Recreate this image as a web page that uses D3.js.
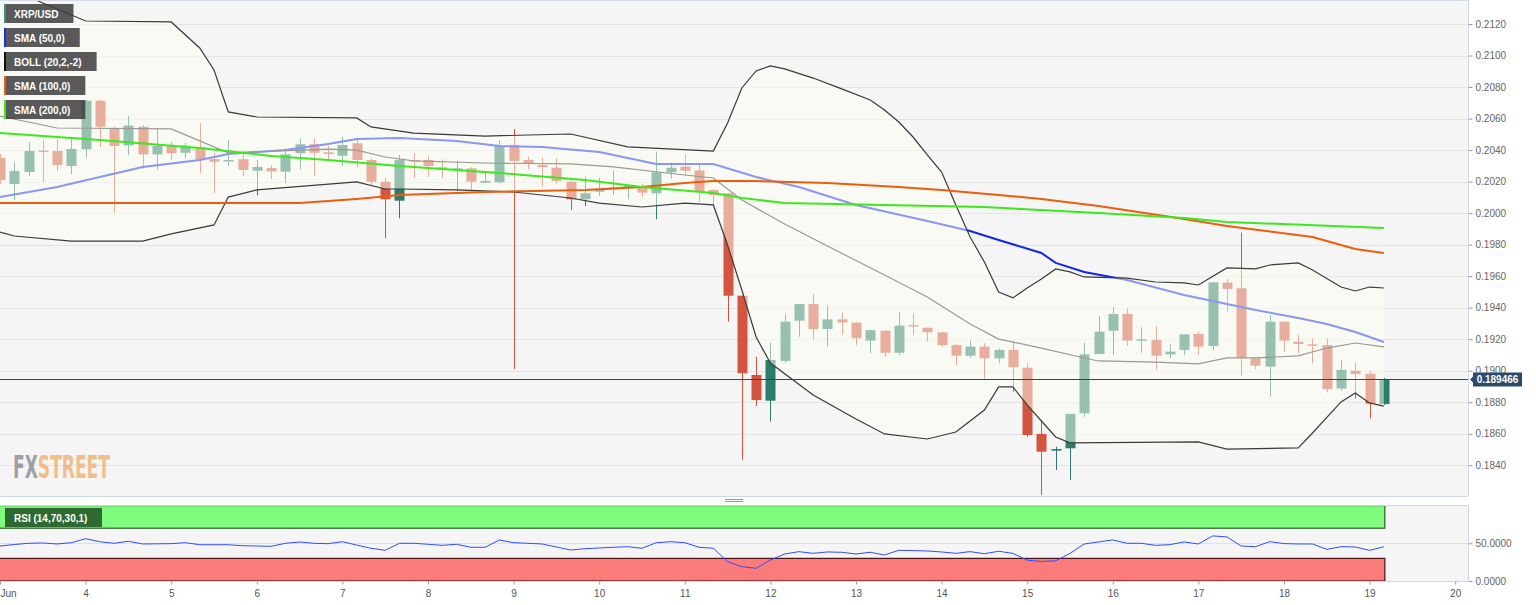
<!DOCTYPE html>
<html>
<head>
<meta charset="utf-8">
<script src="https://cdn.jsdelivr.net/npm/d3@7"></script>
<style>
  body { margin: 0; background: #fff; }
  svg text { font-family: "Liberation Sans", Arial, sans-serif; }
</style>
</head>
<body>
<div id="chart"></div>
<script>
// XRP/USD 4h candles, index 0 = Jun 3 00:00
const opens = [
  0.20350,0.20185,0.20261,0.20397,0.20394,0.20299,0.20405,0.20713,0.20534,0.20430,
  0.20548,0.20373,0.20432,0.20383,0.20418,0.20343,0.20331,0.20342,0.20269,0.20286,
  0.20263,0.20380,0.20437,0.20386,0.20364,0.20443,0.20337,0.20199,0.20079,0.20337,
  0.20337,0.20291,0.20274,0.20284,0.20193,0.20196,0.20432,0.20337,0.20305,0.20288,
  0.20199,0.20088,0.20136,0.20151,0.20168,0.20168,0.20126,0.20259,0.20295,0.20271,
  0.20147,0.20126,0.19476,0.18973,0.18810,0.19062,0.19318,0.19423,0.19265,0.19326,
  0.19305,0.19191,0.19254,0.19114,0.19290,0.19273,0.19244,0.19163,0.19095,0.19153,
  0.19079,0.19132,0.19019,0.18599,0.18493,0.18508,0.18730,0.19106,0.19254,0.19360,
  0.19191,0.19195,0.19104,0.19132,0.19233,0.19157,0.19559,0.19523,0.19079,0.19026,
  0.19311,0.19184,0.19168,0.19163,0.18887,0.19000,0.18981,0.18789
];
const highs = [
  0.20375,0.20324,0.20451,0.20464,0.20470,0.20470,0.20718,0.20718,0.20547,0.20618,
  0.20559,0.20540,0.20453,0.20447,0.20572,0.20382,0.20464,0.20382,0.20337,0.20305,
  0.20411,0.20475,0.20475,0.20426,0.20485,0.20468,0.20348,0.20227,0.20369,0.20380,
  0.20363,0.20342,0.20333,0.20291,0.20267,0.20464,0.20534,0.20358,0.20352,0.20348,
  0.20210,0.20231,0.20225,0.20269,0.20179,0.20185,0.20390,0.20320,0.20375,0.20305,
  0.20153,0.20126,0.19476,0.19089,0.19180,0.19360,0.19423,0.19487,0.19413,0.19371,
  0.19311,0.19258,0.19258,0.19371,0.19364,0.19273,0.19244,0.19168,0.19191,0.19174,
  0.19142,0.19191,0.19047,0.18687,0.18518,0.18726,0.19178,0.19347,0.19406,0.19396,
  0.19276,0.19284,0.19168,0.19231,0.19248,0.19561,0.19580,0.19876,0.19079,0.19354,
  0.19311,0.19227,0.19206,0.19206,0.19068,0.19051,0.19000,0.18954
];
const lows = [
  0.20185,0.20083,0.20236,0.20198,0.20267,0.20248,0.20350,0.20420,0.20001,0.20369,
  0.20280,0.20274,0.20337,0.20350,0.20255,0.20128,0.20299,0.20236,0.20113,0.20215,
  0.20189,0.20278,0.20236,0.20342,0.20299,0.20288,0.20172,0.19840,0.19967,0.20221,
  0.20231,0.20221,0.20140,0.20147,0.20193,0.20189,0.19011,0.20278,0.20168,0.20189,
  0.20020,0.20045,0.20109,0.20115,0.20088,0.20104,0.19961,0.20217,0.20242,0.20071,
  0.20052,0.19311,0.18434,0.18776,0.18677,0.19051,0.19216,0.19199,0.19153,0.19227,
  0.19163,0.19111,0.19089,0.19100,0.19227,0.19184,0.19153,0.19036,0.19079,0.18952,
  0.19047,0.18867,0.18581,0.18212,0.18370,0.18307,0.18708,0.19106,0.19100,0.19157,
  0.19114,0.19005,0.19079,0.19100,0.19100,0.19132,0.19375,0.18967,0.19009,0.18835,
  0.19121,0.19111,0.19047,0.18863,0.18873,0.18824,0.18698,0.18783
];
const closes = [
  0.20210,0.20267,0.20394,0.20391,0.20305,0.20407,0.20713,0.20548,0.20426,0.20555,
  0.20373,0.20426,0.20380,0.20428,0.20343,0.20326,0.20337,0.20274,0.20293,0.20265,
  0.20373,0.20437,0.20383,0.20375,0.20432,0.20337,0.20199,0.20088,0.20337,0.20331,
  0.20299,0.20274,0.20284,0.20199,0.20204,0.20426,0.20331,0.20312,0.20291,0.20204,
  0.20088,0.20126,0.20147,0.20164,0.20172,0.20130,0.20259,0.20288,0.20269,0.20140,
  0.20115,0.19476,0.18984,0.18814,0.19068,0.19311,0.19423,0.19263,0.19326,0.19307,
  0.19206,0.19258,0.19114,0.19286,0.19282,0.19244,0.19163,0.19095,0.19153,0.19079,
  0.19132,0.19022,0.18592,0.18486,0.18503,0.18726,0.19104,0.19248,0.19360,0.19191,
  0.19199,0.19095,0.19121,0.19231,0.19153,0.19561,0.19519,0.19083,0.19032,0.19311,
  0.19191,0.19170,0.19161,0.18884,0.19005,0.18979,0.18792,0.189466
];

// indicator lines as [candle index, price]
const upperBand = [[0,0.21454],[3,0.21333],[6,0.21219],[12,0.21213],[14,0.21048],[15,0.20908],[16,0.20642],[18,0.20610],[25,0.20604],[26,0.20547],[29,0.20508],[34,0.20489],[40,0.20502],[44,0.20420],[50,0.20394],[51,0.20572],[52,0.20794],[53,0.20902],[54,0.20934],[55,0.20915],[57,0.20857],[59,0.20788],[61,0.20718],[62,0.20654],[63,0.20578],[64,0.20483],[65,0.20369],[66,0.20261],[67,0.20052],[68,0.19849],[69,0.19690],[70,0.19500],[71,0.19462],[72,0.19525],[73,0.19582],[74,0.19646],[75,0.19627],[76,0.19595],[79,0.19588],[81,0.19563],[83,0.19557],[84,0.19544],[86,0.19652],[88,0.19646],[89,0.19671],[91,0.19684],[92,0.19639],[94,0.19531],[95,0.19506],[96,0.19531],[97,0.19525]];
const middleBand = [[0,0.20616],[4,0.20540],[12,0.20534],[16,0.20382],[23,0.20406],[25,0.20400],[27,0.20356],[29,0.20331],[34,0.20318],[40,0.20312],[43,0.20293],[48,0.20242],[50,0.20223],[52,0.20083],[55,0.19931],[58,0.19791],[62,0.19607],[65,0.19468],[68,0.19297],[70,0.19201],[73,0.19144],[76,0.19081],[77,0.19062],[81,0.19055],[84,0.19043],[86,0.19081],[88,0.19081],[91,0.19094],[93,0.19144],[95,0.19176],[97,0.19151]];
const lowerBand = [[0,0.19880],[1,0.19855],[5,0.19823],[10,0.19823],[12,0.19868],[15,0.19925],[16,0.20102],[18,0.20147],[25,0.20198],[27,0.20153],[28,0.20153],[32,0.20147],[36,0.20134],[40,0.20096],[42,0.20064],[45,0.20039],[48,0.20064],[50,0.20052],[51,0.19798],[52,0.19512],[53,0.19214],[54,0.19049],[57,0.18846],[60,0.18694],[62,0.18599],[65,0.18567],[67,0.18611],[69,0.18751],[70,0.18897],[71,0.18897],[72,0.18783],[73,0.18681],[74,0.18580],[75,0.18542],[84,0.18548],[86,0.18503],[91,0.18510],[92,0.18605],[94,0.18802],[95,0.18859],[96,0.18796],[97,0.18776]];
const sma50 = [[0,0.20102],[4,0.20166],[7,0.20229],[10,0.20293],[14,0.20337],[16,0.20375],[20,0.20400],[23,0.20439],[25,0.20470],[28,0.20477],[32,0.20458],[35,0.20426],[38,0.20420],[42,0.20388],[46,0.20312],[50,0.20312],[53,0.20229],[56,0.20166],[60,0.20052],[65,0.19950],[68,0.19887],[70,0.19830],[73,0.19747],[74,0.19684],[76,0.19627],[79,0.19576],[83,0.19481],[88,0.19385],[91,0.19335],[93,0.19297],[95,0.19246],[97,0.19182]];
const sma100 = [[0,0.20064],[21,0.20064],[25,0.20090],[28,0.20115],[34,0.20134],[41,0.20147],[45,0.20166],[48,0.20191],[50,0.20204],[53,0.20204],[58,0.20191],[63,0.20166],[66,0.20147],[70,0.20115],[73,0.20090],[77,0.20045],[83,0.19963],[86,0.19918],[92,0.19849],[93,0.19823],[95,0.19772],[97,0.19747]];
const sma200 = [[0,0.20508],[7,0.20464],[14,0.20413],[19,0.20363],[23,0.20337],[28,0.20299],[35,0.20255],[41,0.20210],[45,0.20166],[50,0.20128],[52,0.20096],[55,0.20064],[62,0.20052],[69,0.20039],[77,0.20001],[83,0.19969],[86,0.19944],[97,0.19906]];

const rsi = [
  46.4,48.4,50.0,50.4,49.1,50.8,56.1,52.1,50.0,52.7,
  49.1,49.3,49.5,50.8,48.1,48.1,48.1,46.8,46.4,46.0,
  50.0,51.7,50.0,49.5,52.1,47.7,43.4,40.7,50.0,50.0,
  48.7,47.3,48.7,44.7,44.7,54.4,50.8,50.0,49.1,45.1,
  41.1,42.8,43.8,44.7,45.5,43.4,50.8,52.1,50.8,44.7,
  43.4,25.6,19.0,16.8,27.9,35.8,38.9,36.7,38.5,38.1,
  35.8,38.1,34.5,40.7,40.3,39.8,38.5,36.7,38.9,36.2,
  39.4,36.6,27.7,25.9,26.8,36.6,49.1,51.8,54.5,50.0,
  50.0,47.3,48.2,51.8,49.1,59.8,58.5,46.4,45.5,52.2,
  49.6,49.1,49.1,42.0,45.5,45.1,40.6,45.5
];

const priceTicks = [0.184,0.186,0.188,0.190,0.192,0.194,0.196,0.198,0.200,0.202,0.204,0.206,0.208,0.210,0.212];
const rsiTicks = [0, 50];
const dayLabels = ["Jun","4","5","6","7","8","9","10","11","12","13","14","15","16","17","18","19","20"];
const legendNames = ["XRP/USD","SMA (50,0)","BOLL (20,2,-2)","SMA (100,0)","SMA (200,0)"];
const legendColors = ["#3a9580","#1530f0","#111111","#e8600f","#3de81c"];
const lastPrice = 0.189466;

const W = 1536, H = 605, plotW = 1468;
const mainH = 496, rsiTop = 505, rsiBottom = 581;
const bull = "#2c7c69", bear = "#d35540";

const x = d3.scaleLinear().domain([0, 102.9]).range([0, plotW]);
const y = d3.scaleLinear().domain([0.184, 0.212]).range([465.3, 24]);
const yR = d3.scaleLinear().domain([0, 100]).range([rsiBottom, 505.6]);

const svg = d3.select("#chart").append("svg")
  .attr("width", W).attr("height", H);

svg.append("rect").attr("width", W).attr("height", H).attr("fill", "#fff");

const defs = svg.append("defs");
defs.append("clipPath").attr("id", "clipMain")
  .append("rect").attr("x", 0).attr("y", 0).attr("width", plotW).attr("height", mainH);
defs.append("clipPath").attr("id", "clipRsi")
  .append("rect").attr("x", 0).attr("y", rsiTop).attr("width", plotW).attr("height", rsiBottom - rsiTop);

// ---- main panel ----
svg.append("rect").attr("x", 0).attr("y", 0).attr("width", plotW).attr("height", mainH)
  .attr("fill", "#f5f5f5");

const plot = svg.append("g").attr("clip-path", "url(#clipMain)");

plot.selectAll(".grid").data(priceTicks).enter().append("line")
  .attr("x1", 0).attr("x2", plotW)
  .attr("y1", d => Math.round(y(d)) + 0.5).attr("y2", d => Math.round(y(d)) + 0.5)
  .attr("stroke", "#e4e4e4");

// watermark: "FX" grey + "STREET" orange as one text, squeezed to width
const wmG = plot.append("g").attr("opacity", 0.85);
const wm = wmG.append("text").attr("x", 0).attr("y", 0)
  .style("font-family", "'Liberation Sans Narrow', 'DejaVu Sans Condensed', sans-serif")
  .style("font-weight", "bold").style("font-size", "32px");
wm.append("tspan").attr("fill", "#8d929a").text("FX");
wm.append("tspan").attr("fill", "#f1b578").text("STREET");
const wmW = wm.node().getComputedTextLength();
wmG.attr("transform", `translate(13,478) scale(${97 / wmW},1)`);

// candles
const candles = opens.map((o, i) => ({i, o, h: highs[i], l: lows[i], c: closes[i]}));
const bodyW = 10;
const cg = plot.append("g");
cg.selectAll(".wick").data(candles).enter().append("line")
  .attr("x1", d => Math.round(x(d.i)) + 0.5).attr("x2", d => Math.round(x(d.i)) + 0.5)
  .attr("y1", d => y(d.h)).attr("y2", d => y(d.l))
  .attr("stroke", d => d.c >= d.o ? bull : bear).attr("stroke-width", 1);
cg.selectAll(".body").data(candles).enter().append("rect")
  .attr("x", d => Math.round(x(d.i)) - bodyW / 2 + 0.5)
  .attr("width", bodyW)
  .attr("y", d => y(Math.max(d.o, d.c)))
  .attr("height", d => Math.max(1.5, Math.abs(y(d.o) - y(d.c))))
  .attr("fill", d => d.c >= d.o ? bull : bear);

const line = d3.line().x(d => x(d[0])).y(d => y(d[1]));

plot.append("path").datum(sma50).attr("d", line)
  .attr("fill", "none").attr("stroke", "#0e26ee").attr("stroke-width", 2);
plot.append("path").datum(middleBand).attr("d", line)
  .attr("fill", "none").attr("stroke", "#2e2e2e").attr("stroke-width", 1.2);

// bollinger fill lightens everything beneath it
const bandPts = upperBand.map(d => [x(d[0]), y(d[1])])
  .concat(lowerBand.slice().reverse().map(d => [x(d[0]), y(d[1])]));
plot.append("path").attr("d", d3.line()(bandPts) + "Z")
  .attr("fill", "#fbfff2").attr("opacity", 0.52);

plot.append("path").datum(upperBand).attr("d", line)
  .attr("fill", "none").attr("stroke", "#3a3a3a").attr("stroke-width", 1.2);
plot.append("path").datum(lowerBand).attr("d", line)
  .attr("fill", "none").attr("stroke", "#3a3a3a").attr("stroke-width", 1.2);
plot.append("path").datum(sma100).attr("d", line)
  .attr("fill", "none").attr("stroke", "#ec5d0c").attr("stroke-width", 2);
plot.append("path").datum(sma200).attr("d", line)
  .attr("fill", "none").attr("stroke", "#3ee81e").attr("stroke-width", 2);

// current price line
const yLast = Math.round(y(lastPrice)) + 0.5;
plot.append("line").attr("x1", 0).attr("x2", plotW).attr("y1", yLast).attr("y2", yLast)
  .attr("stroke", "#2d4566").attr("stroke-width", 1);

// legend boxes
const lg = svg.append("g");
legendNames.forEach((name, k) => {
  const g = lg.append("g").attr("transform", `translate(4,${4 + k * 24})`);
  const rect = g.append("rect").attr("height", 19).attr("fill", "#3c3c3c").attr("opacity", 0.85);
  const t = g.append("text").attr("x", 10).attr("y", 13.5).attr("fill", "#fff")
    .style("font-size", "10px").style("font-weight", "bold").text(name);
  const tw = t.node().getComputedTextLength();
  rect.attr("width", tw + 25);
  g.append("rect").attr("width", 2).attr("height", 19).attr("fill", legendColors[k]);
});

// borders of main panel
svg.append("line").attr("x1", 0).attr("x2", plotW).attr("y1", 0.5).attr("y2", 0.5).attr("stroke", "#d3dbea");
svg.append("line").attr("x1", 0).attr("x2", plotW).attr("y1", mainH + 0.5).attr("y2", mainH + 0.5).attr("stroke", "#cfd8e8");
svg.append("line").attr("x1", plotW + 0.5).attr("x2", plotW + 0.5).attr("y1", 0).attr("y2", mainH).attr("stroke", "#cfd8e8");

// right price axis
const yAxis = d3.axisRight(y).tickValues(priceTicks).tickFormat(d3.format(".4f")).tickSize(4).tickPadding(3);
const ya = svg.append("g").attr("transform", `translate(${plotW + 0.5},0)`).call(yAxis);
ya.select(".domain").remove();
ya.selectAll("line").attr("stroke", "#999");
ya.selectAll("text").attr("fill", "#666").style("font-size", "10px");

// last price label
const lp = svg.append("g").attr("transform", `translate(${plotW + 2},${yLast})`);
lp.append("path").attr("d", "M0,0 L3,-3 L3,3 Z").attr("fill", "#2c4a6e");
lp.append("rect").attr("x", 3).attr("y", -7).attr("width", 49).attr("height", 14).attr("fill", "#2c4a6e");
lp.append("text").attr("x", 27.5).attr("y", 3.5).attr("text-anchor", "middle")
  .attr("fill", "#fff").style("font-size", "10px").style("font-weight", "bold")
  .text(lastPrice.toFixed(6));

// splitter handle
svg.append("line").attr("x1", 725).attr("x2", 743).attr("y1", 499.5).attr("y2", 499.5).attr("stroke", "#999");
svg.append("line").attr("x1", 725).attr("x2", 743).attr("y1", 501.5).attr("y2", 501.5).attr("stroke", "#999");

// ---- RSI panel ----
svg.append("rect").attr("x", 0).attr("y", rsiTop).attr("width", plotW).attr("height", rsiBottom - rsiTop)
  .attr("fill", "#f5f5f5");
const rp = svg.append("g").attr("clip-path", "url(#clipRsi)");
const rsiEnd = x(rsi.length - 1) + 1;

rp.append("line").attr("x1", 0).attr("x2", plotW)
  .attr("y1", Math.round(yR(50)) + 0.5).attr("y2", Math.round(yR(50)) + 0.5).attr("stroke", "#e0e0e0");

rp.append("rect").attr("x", -1).attr("y", yR(100)).attr("width", rsiEnd + 1).attr("height", yR(70) - yR(100))
  .attr("fill", "#7ffb7d").attr("stroke", "#2b5e2b").attr("stroke-width", 1.2);
rp.append("rect").attr("x", -1).attr("y", yR(30)).attr("width", rsiEnd + 1).attr("height", yR(0) - yR(30))
  .attr("fill", "#fb7b7b").attr("stroke", "#4a1414").attr("stroke-width", 1.2);

rp.append("path").datum(rsi)
  .attr("d", d3.line().x((d, i) => x(i)).y(d => yR(d)))
  .attr("fill", "none").attr("stroke", "#2f4dff").attr("stroke-width", 1);

const rl = svg.append("g").attr("transform", "translate(5,508)");
rl.append("rect").attr("width", 97).attr("height", 19).attr("fill", "#2e6a30");
rl.append("text").attr("x", 9).attr("y", 13.5).attr("fill", "#fff")
  .style("font-size", "10px").style("font-weight", "bold").text("RSI (14,70,30,1)");

svg.append("line").attr("x1", 0).attr("x2", plotW).attr("y1", rsiTop + 0.5).attr("y2", rsiTop + 0.5).attr("stroke", "#cfd8e8");
svg.append("line").attr("x1", plotW + 0.5).attr("x2", plotW + 0.5).attr("y1", rsiTop).attr("y2", rsiBottom).attr("stroke", "#cfd8e8");
svg.append("line").attr("x1", 0).attr("x2", plotW).attr("y1", rsiBottom + 0.5).attr("y2", rsiBottom + 0.5).attr("stroke", "#cfd8e8");

const rAxis = d3.axisRight(yR).tickValues(rsiTicks).tickFormat(d3.format(".4f")).tickSize(4).tickPadding(3);
const ra = svg.append("g").attr("transform", `translate(${plotW + 0.5},0)`).call(rAxis);
ra.select(".domain").remove();
ra.selectAll("line").attr("stroke", "#999");
ra.selectAll("text").attr("fill", "#666").style("font-size", "10px");

// ---- time axis ----
const dayIdx = dayLabels.map((d, k) => k * 6);
const xAxis = d3.axisBottom(x).tickValues(dayIdx).tickFormat((d, k) => dayLabels[k]).tickSize(3).tickPadding(5);
const xa = svg.append("g").attr("transform", `translate(0,${rsiBottom + 0.5})`).call(xAxis);
xa.select(".domain").remove();
xa.selectAll("line").attr("stroke", "#999");
xa.selectAll("text").attr("fill", "#555").style("font-size", "10px");
xa.selectAll("text").filter((d, k) => k === 0).attr("text-anchor", "start").attr("x", 0);
</script>
</body>
</html>
